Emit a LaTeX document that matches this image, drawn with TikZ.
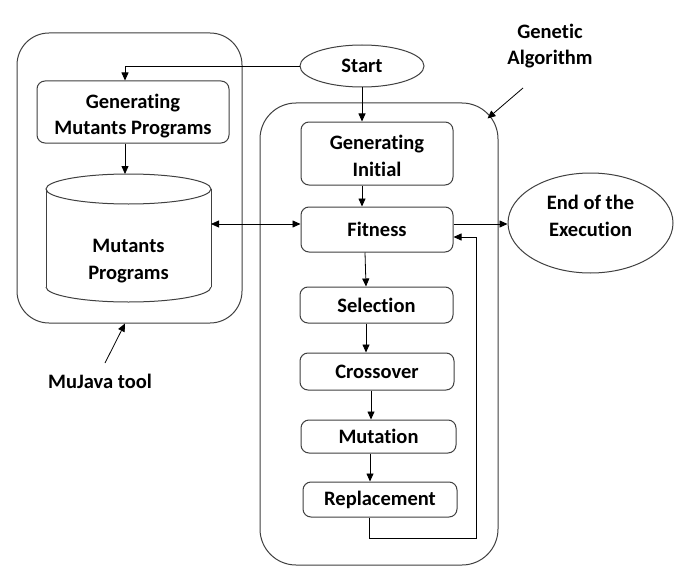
\documentclass[tikz,border=0pt]{standalone}
\usepackage{fontspec}
\setmainfont[Ligatures=NoCommon]{Carlito}
\usetikzlibrary{arrows.meta,shapes.geometric,calc}
\newcommand{\mvtext}[2]{\raisebox{#1}[0pt][0pt]{\begin{tabular}{@{}c@{}}#2\end{tabular}}}
\begin{document}
\begin{tikzpicture}[x=1pt,y=-1pt,
  font=\fontsize{20.5}{26.5}\selectfont\bfseries,
  box/.style={draw=black!75, line width=1pt, rounded corners=8pt, align=center, inner sep=0pt},
  ell/.style={draw=black!75, line width=1pt, ellipse, align=center, inner sep=0pt},
  outer/.style={draw=black!75, line width=1pt, inner sep=0pt},
  arr/.style={-{Triangle[length=8pt,width=7pt]}, line width=0.8pt},
  darr/.style={{Triangle[length=8pt,width=7pt]}-{Triangle[length=8pt,width=7pt]}, line width=0.8pt},
  ln/.style={draw=black!75, line width=1pt}]
\useasboundingbox (0,0) rectangle (679,567);
\fill[white] (0,0) rectangle (679,567);

% containers
\node[outer, rounded corners=32pt, minimum width=225pt, minimum height=290pt] (mujava) at (129.5,178) {};
\node[outer, rounded corners=36pt, minimum width=238pt, minimum height=462pt] (gabox) at (379,334) {};

% left side
\node[box, minimum width=192pt, minimum height=62pt] (gmp) at (133,112) {\mvtext{-9.5pt}{Generating\\Mutants Programs}};
\coordinate (ctop) at (125,174);
\draw[ln] (128.5,189) ellipse [x radius=82.5, y radius=15];
\draw[ln] (46,189) -- (46,287);
\draw[ln] (211,189) -- (211,287);
\begin{scope}
  \clip (40,287) rectangle (220,310);
  \draw[ln] (128.5,287) ellipse [x radius=82.5, y radius=15];
\end{scope}
\node[align=center] (cyl) at (128.5,261) {Mutants\\Programs};
\coordinate (cylE) at (211,224);

% right side
\node[ell, minimum width=124pt, minimum height=42pt] (start) at (362,66) {Start};
\node[box, minimum width=152pt, minimum height=63pt] (gi) at (377,153.5) {\mvtext{-9.5pt}{Generating\\Initial}};
\node[box, minimum width=152pt, minimum height=45pt] (fit) at (377,229.5) {Fitness};
\node[box, minimum width=153pt, minimum height=36pt] (sel) at (376.5,305) {Selection};
\node[box, minimum width=154pt, minimum height=37pt] (cro) at (377,371.5) {Crossover};
\node[box, minimum width=155pt, minimum height=33pt] (mut) at (378.5,436.5) {Mutation};
\node[box, minimum width=154pt, minimum height=35pt] (rep) at (380,499.5) {Replacement};
\node[ell, minimum width=165pt, minimum height=100pt] (end) at (590.5,223) {\mvtext{0pt}{End of the\\Execution}};
\coordinate (loopc) at (476,538);

% labels
\node[align=center] (galab) at (550,46) {Genetic\\Algorithm};
\coordinate (gaT) at (523,88);
\node (mjlab) at (100,381) {MuJava tool};
\coordinate (mjT) at (105,363);

% connectors
\draw[arr] (start.west) -| ([xshift=-8pt]gmp.north);
\draw[arr] ([xshift=-8pt]gmp.south) -- (ctop);
\draw[darr] (cylE) -- (cylE -| fit.west);
\draw[arr] (start.south) -- (start.south |- gi.north);
\draw[arr] ([xshift=-15pt]gi.south) -- ([xshift=-15pt]fit.north);
\draw[arr] (cylE -| fit.east) -- (cylE -| end.west);
\draw[arr] ([xshift=-12pt]fit.south) -- ([xshift=-10.5pt]sel.north);
\draw[arr] ([xshift=-10.5pt]sel.south) -- ([xshift=-11pt]cro.north);
\draw[arr] ([xshift=-6pt]cro.south) -- ([xshift=-7.5pt]mut.north);
\draw[arr] ([xshift=-8.5pt]mut.south) -- ([xshift=-10pt]rep.north);
\draw[arr] ([xshift=-11pt]rep.south) |- (loopc) |- ([yshift=-7.5pt]fit.east);
\draw[arr] (gaT) -- ($(gabox.north east)+(-11,16)$);
\draw[arr] (mjT) -- ([xshift=-4.5pt]mujava.south);
\end{tikzpicture}
\end{document}
